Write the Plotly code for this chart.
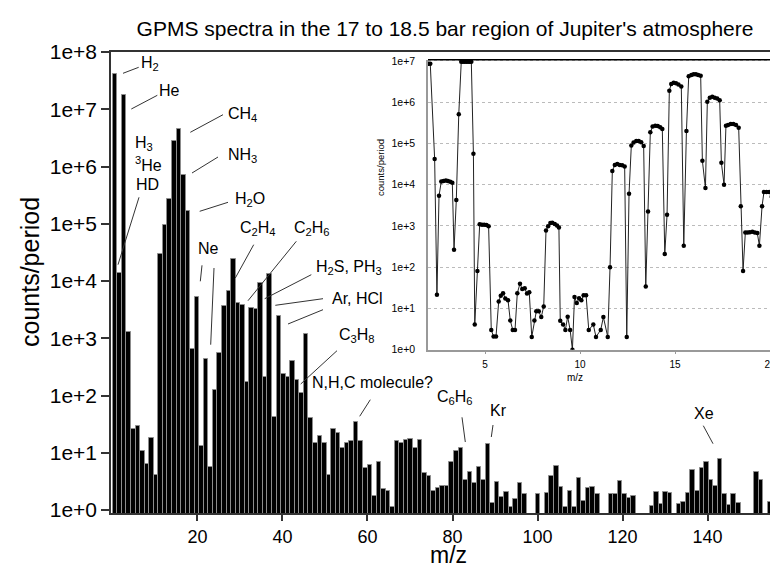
import plotly.graph_objects as go

FONT = "Liberation Sans, Arial, Helvetica, sans-serif"

# ---------------- main spectrum (counts/period per m/z) ----------------
mz = list(range(2, 150))
counts = [
    4.1e7, 1.4e4, 1.8e7, 1.3e3, 26, 30, 11, 6.3, 18, 4.1,          # 2-11
    3.0e4, 9.5e4, 2.75e5, 2.75e6, 4.6e6, 7.2e5, 1.7e5, 650, 5.2e3, 13,  # 12-21
    440, 5.6, 123, 550, 3630, 6760, 24500, 4070, 3890, 174,       # 22-31
    3390, 3240, 9330, 214, 13200, 41.7, 2450, 240, 214, 398,      # 32-41
    186, 112, 1200, 40.7, 14.8, 19.5, 14.8, 4.1, 25.7, 22.4,      # 42-51
    12.0, 15.1, 16.2, 34.7, 16.2, 5.4, 6.2, 1.8, 6.8, 2.3,        # 52-61
    2.2, 1.15, 16.2, 15.1, 16.6, 17.4, 12.0, 16.6, 4.4, 3.9,      # 62-71
    2.2, 2.4, 2.6, 2.6, 6.8, 10.7, 12.0, 3.3, 4.7, 3.0,           # 72-81
    5.6, 3.4, 14.5, 1.35, 3.1, 1.7, 2.1, 1.15, 1.55, 3.0,         # 82-91
    1.9, None, None, 1.9, None, 2.0, 4.0, 5.8, 2.5, 1.15,         # 92-101
    2.2, 1.15, 3.6, 1.45, 2.4, 2.5, 1.95, None, None, 1.9,        # 102-111
    1.9, 3.2, 1.9, 1.6, 1.8, None, None, None, 1.2, 2.1,          # 112-121
    1.26, 2.1, 2.0, None, 1.3, 1.4, 2.0, 5.0, 2.2, 5.4,           # 122-131
    6.8, 3.3, 2.6, 7.8, 1.9, 1.23, 1.9, 1.35, None, None,         # 132-141
    None, 4.6, 3.4, None, 1.4, None, None, 1.7,                   # 142-149
]

# ---------------- inset: 2 to 21 m/z, read as log10(counts/period) ----------------
inset_mz = [
    2.03, 2.12, 2.35, 2.47, 2.58, 2.70, 2.82, 2.94, 3.05, 3.17, 3.28, 3.37, 3.49, 3.62,
    3.75, 3.84, 3.93, 4.02, 4.11, 4.20, 4.28, 4.39, 4.46, 4.60, 4.72, 4.84, 4.96, 5.08,
    5.19, 5.33, 5.45, 5.58, 5.72, 5.83, 5.95, 6.07, 6.21, 6.33, 6.46, 6.58, 6.70, 6.84,
    6.96, 7.09, 7.21, 7.33, 7.46, 7.60, 7.70, 7.83, 7.96, 8.09, 8.21, 8.32, 8.44, 8.54,
    8.67, 8.79, 8.89, 8.96, 9.11, 9.23, 9.35, 9.48, 9.60, 9.71, 9.83, 9.95, 10.07, 10.19,
    10.32, 10.46, 10.70, 10.84, 11.09, 11.23, 11.46, 11.58, 11.70, 11.83, 11.96, 12.09,
    12.22, 12.35, 12.46, 12.58, 12.70, 12.82, 12.96, 13.09, 13.22, 13.35, 13.46, 13.58,
    13.70, 13.82, 13.96, 14.09, 14.22, 14.33, 14.46, 14.58, 14.70, 14.80, 14.93, 15.05,
    15.18, 15.33, 15.46, 15.60, 15.72, 15.86, 15.98, 16.10, 16.22, 16.35, 16.44, 16.60,
    16.70, 16.83, 16.96, 17.09, 17.22, 17.35, 17.44, 17.58, 17.68, 17.79, 17.93, 18.07,
    18.21, 18.35, 18.46, 18.58, 18.70, 18.82, 18.94, 19.07, 19.20, 19.33, 19.44, 19.58,
    19.68, 19.82, 19.96, 20.09, 20.20, 20.34, 20.46, 20.58, 20.68, 20.80,
]
inset_log10_counts = [
    6.93, 6.93, 4.62, 1.33, 3.73, 4.08, 4.09, 4.10, 4.09, 4.07, 4.05, 2.42, 3.63, 5.71,
    6.98, 6.98, 6.98, 6.98, 6.98, 6.98, 6.98, 4.75, 0.61, 1.91, 3.04, 3.03, 3.03, 3.02,
    2.99, 0.48, 0.32, 0.32, 1.17, 1.31, 1.37, 1.24, 1.20, 0.71, 0.48, 0.48, 1.37, 1.60,
    1.47, 1.49, 1.36, 1.39, 0.31, 0.71, 0.93, 0.93, 0.79, 1.05, 2.89, 2.99, 3.07, 3.08,
    3.05, 3.01, 2.96, 0.70, 0.61, 0.48, 0.80, 0.48, 0.00, 1.28, 1.13, 1.25, 1.20, 1.32,
    1.32, 0.48, 0.61, 0.31, 0.48, 0.79, 0.31, 2.00, 4.33, 4.48, 4.50, 4.48,
    4.47, 4.44, 0.31, 3.78, 4.95, 5.02, 5.06, 5.06, 5.03, 4.94, 1.53, 3.35,
    5.27, 5.41, 5.43, 5.42, 5.39, 5.35, 2.32, 3.27, 6.28, 6.44, 6.47, 6.46,
    6.43, 6.38, 2.52, 5.30, 6.63, 6.66, 6.68, 6.68, 6.66, 6.64, 4.58, 3.92,
    6.01, 6.11, 6.13, 6.11, 6.09, 6.05, 4.53, 4.00, 5.43, 5.45, 5.47, 5.47,
    5.45, 5.38, 3.48, 1.91, 2.84, 2.84, 2.85, 2.86, 2.84, 2.83, 2.52, 3.48,
    3.82, 3.82, 3.82, 3.71, 2.10, 0.79, 0.79, 1.21, 1.27, 1.31,
]

# tick labels as printed on the reference's m/z axis (its scale differs from the bar spacing)
main_ticks = [20, 40, 60, 80, 100, 120, 140]
decades = [10 ** k for k in range(0, 9)]
decade_labels = ["1e+%d" % k for k in range(0, 9)]
inset_ticks = [5, 10, 15, 20]

# ---------------- figure geometry (pixels) ----------------
W, H = 778, 565
L, R, T, B = 103, 0, 44, 60
PW, PH = W - L - R, H - T - B


def px(x):
    return (x - L) / PW


def py(y):
    return (H - B - y) / PH


fig = go.Figure()
fig.add_trace(go.Bar(
    x=mz, y=counts, width=1.0,
    marker=dict(color="black", line=dict(color="#8c8c8c", width=1)),
    xaxis="x", yaxis="y", hoverinfo="x+y",
))
# carrier for the printed m/z scale
fig.add_trace(go.Scatter(x=[], y=[], xaxis="x3", yaxis="y", showlegend=False))
fig.add_trace(go.Scatter(
    x=inset_mz, y=[10 ** v for v in inset_log10_counts],
    mode="lines+markers",
    line=dict(color="#222222", width=1),
    marker=dict(color="black", size=4.5),
    xaxis="x2", yaxis="y2",
))

axis_col = "#333333"
inset_col = "#999999"
fig.update_layout(
    width=W, height=H,
    margin=dict(l=L, r=R, t=T, b=B),
    paper_bgcolor="white", plot_bgcolor="white",
    showlegend=False, bargap=0,
    font=dict(family=FONT, color="black"),
    title=dict(text="GPMS spectra in the 17 to 18.5 bar region of Jupiter's atmosphere",
               x=px(437), xref="paper", xanchor="center",
               y=1 - 21 / H, yref="container", yanchor="middle",
               font=dict(size=21, family=FONT, color="black")),
    xaxis=dict(range=[1.1, 149.5], showticklabels=False, ticks="",
               showline=True, linecolor=axis_col, linewidth=1.5, mirror=True,
               showgrid=False, zeroline=False),
    xaxis3=dict(overlaying="x", anchor="y", side="bottom", range=[-0.35, 158.47],
                tickvals=main_ticks, ticks="outside", ticklen=7,
                tickwidth=1.5, tickcolor=axis_col, showline=False, showgrid=False,
                zeroline=False, tickfont=dict(size=18)),
    yaxis=dict(type="log", range=[-0.05, 8], tickvals=decades, ticktext=decade_labels,
               ticks="outside", ticklen=8, tickwidth=1.5, tickcolor=axis_col,
               showline=True, linecolor=axis_col, linewidth=1.5, showgrid=False,
               zeroline=False, tickfont=dict(size=21)),
    xaxis2=dict(domain=[px(420), 1.0], anchor="y2", range=[2.0, 20.84], tickvals=inset_ticks,
                ticks="outside", ticklen=3, tickcolor=inset_col, showline=True,
                linecolor=inset_col, linewidth=1.5, showgrid=False, zeroline=False,
                tickfont=dict(size=10), ticklabelstandoff=2),
    yaxis2=dict(domain=[py(341.7), py(51.7)], anchor="x2", type="log", range=[0, 7.03],
                tickvals=decades[:8], ticktext=decade_labels[:8], ticks="",
                showline=True, linecolor=inset_col, linewidth=1.5,
                showgrid=True, gridcolor="#bbbbbb", griddash="dot", gridwidth=1,
                zeroline=False, tickfont=dict(size=10.5), ticklabelstandoff=9),
)

# black line closing the top of the inset
fig.add_shape(type="line", xref="paper", yref="paper", x0=px(420), x1=1.0,
              y0=py(51.7), y1=py(51.7), line=dict(color="black", width=1.5))

# axis titles
axis_titles = [
    ("m/z", 440, 547, 0, 23),
    ("counts/period", 22, 264, -90, 25),
    ("m/z", 567, 369, 0, 10),
    ("counts/period", 372, 160, -90, 9.5),
]
for text, x, y, ang, size in axis_titles:
    fig.add_annotation(text=text, x=px(x), y=py(y), xref="paper", yref="paper",
                       xanchor="center", yanchor="middle", showarrow=False,
                       textangle=ang, font=dict(size=size, family=FONT, color="black"))

# ---------------- species labels ----------------
labels = [
    ("H<sub>2</sub>", 142, 56),
    ("He", 161.5, 82),
    ("H<sub>3</sub>", 136, 135),
    ("<sup>3</sup>He", 140, 156),
    ("HD", 139, 176),
    ("CH<sub>4</sub>", 234, 106),
    ("NH<sub>3</sub>", 234, 147),
    ("H<sub>2</sub>O", 242, 191),
    ("Ne", 200.5, 240),
    ("C<sub>2</sub>H<sub>4</sub>", 250, 220),
    ("C<sub>2</sub>H<sub>6</sub>", 304, 220),
    ("H<sub>2</sub>S, PH<sub>3</sub>", 341, 259),
    ("Ar, HCl", 349, 290),
    ("C<sub>3</sub>H<sub>8</sub>", 348.5, 328),
    ("N,H,C molecule?", 364, 374),
    ("C<sub>6</sub>H<sub>6</sub>", 447, 389),
    ("Kr", 490, 403),
    ("Xe", 696, 405),
]
for text, x, y in labels:
    fig.add_annotation(text=text, x=px(x), y=py(y), xref="paper", yref="paper",
                       xanchor="center", yanchor="middle", showarrow=False,
                       font=dict(size=16, family=FONT, color="black"))

leaders = [
    (115, 65.3, 130.7, 59.3),
    (123.3, 101, 149.3, 87.3),
    (131, 189.3, 110, 256.7),
    (182.3, 124.3, 215, 106.7),
    (184, 165, 210, 149),
    (191.7, 203.3, 220, 194.3),
    (194, 257.3, 192.3, 273.3),
    (206, 260, 202.7, 336.7),
    (245.7, 236.7, 227.3, 270),
    (288.3, 233.3, 240, 292.7),
    (303.3, 266.7, 256.7, 290.7),
    (315, 290.7, 267.3, 297.3),
    (315, 301.7, 280, 316),
    (329, 342.7, 292.7, 376),
    (362.3, 391.7, 351.7, 408.3),
    (454, 409.3, 457.3, 434),
    (485, 417, 483.3, 429),
    (695.3, 417.7, 705, 435.7),
]
for x0, y0, x1, y1 in leaders:
    fig.add_shape(type="line", xref="paper", yref="paper",
                  x0=px(x0), y0=py(y0), x1=px(x1), y1=py(y1),
                  line=dict(color="#333333", width=1))

fig.write_html("out.html")
